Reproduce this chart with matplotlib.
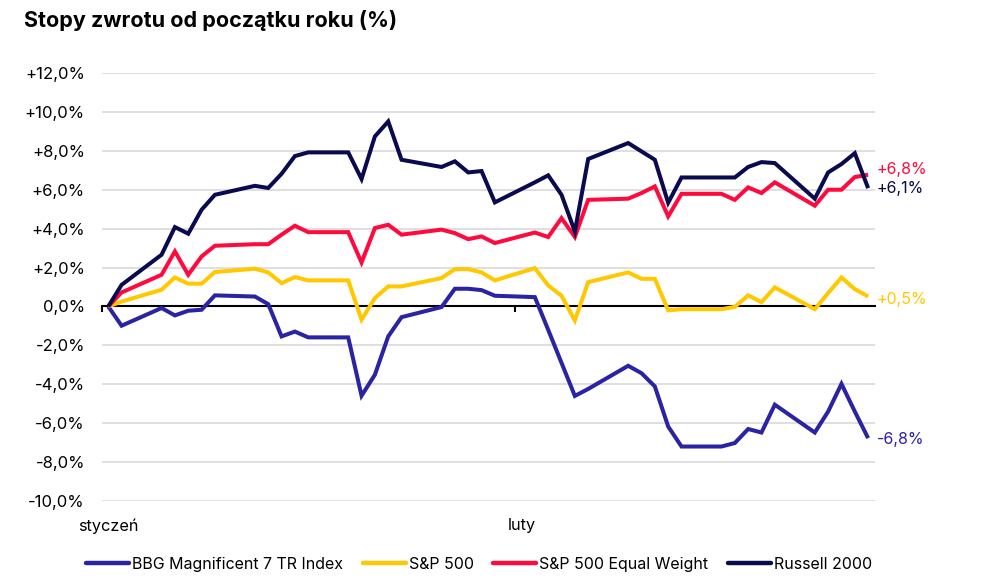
"""Year-to-date returns of US equity indices, Jan-Feb 2026."""

from __future__ import annotations

from typing import Final

import matplotlib

matplotlib.use("Agg")

import matplotlib.dates as mdates
import matplotlib.pyplot as plt
import pandas as pd
from matplotlib.axes import Axes
from matplotlib.transforms import blended_transform_factory

# trading days (holidays carry the previous close)
DATES: Final[list[str]] = [
    "2026-01-01", "2026-01-02",
    "2026-01-05", "2026-01-06", "2026-01-07", "2026-01-08", "2026-01-09",
    "2026-01-12", "2026-01-13", "2026-01-14", "2026-01-15", "2026-01-16",
    "2026-01-19", "2026-01-20", "2026-01-21", "2026-01-22", "2026-01-23",
    "2026-01-26", "2026-01-27", "2026-01-28", "2026-01-29", "2026-01-30",
    "2026-02-02", "2026-02-03", "2026-02-04", "2026-02-05", "2026-02-06",
    "2026-02-09", "2026-02-10", "2026-02-11", "2026-02-12", "2026-02-13",
    "2026-02-16", "2026-02-17", "2026-02-18", "2026-02-19", "2026-02-20",
    "2026-02-23", "2026-02-24", "2026-02-25", "2026-02-26", "2026-02-27",
]

MAG7: Final[list[float]] = [
    0.0, -0.99,
    -0.08, -0.46, -0.22, -0.17, 0.57,
    0.51, 0.12, -1.54, -1.29, -1.59,
    -1.59, -4.59, -3.51, -1.54, -0.55,
    -0.03, 0.91, 0.91, 0.84, 0.55,
    0.48, -1.20, -2.90, -4.60, -4.24,
    -3.05, -3.43, -4.11, -6.17, -7.20,
    -7.20, -7.02, -6.30, -6.48, -5.05,
    -6.48, -5.40, -3.98, -5.40, -6.77,
]

SP500: Final[list[float]] = [
    0.0, 0.25,
    0.86, 1.49, 1.17, 1.17, 1.77,
    1.94, 1.75, 1.20, 1.51, 1.34,
    1.34, -0.68, 0.43, 1.03, 1.03,
    1.46, 1.92, 1.92, 1.75, 1.34,
    1.97, 1.08, 0.55, -0.72, 1.25,
    1.75, 1.42, 1.42, -0.20, -0.14,
    -0.14, -0.02, 0.57, 0.22, 0.98,
    -0.14, 0.69, 1.49, 0.89, 0.51,
]

SP500_EW: Final[list[float]] = [
    0.0, 0.72,
    1.63, 2.83, 1.63, 2.57, 3.12,
    3.20, 3.20, 3.69, 4.15, 3.82,
    3.82, 2.26, 4.03, 4.20, 3.69,
    3.95, 3.77, 3.46, 3.60, 3.26,
    3.80, 3.57, 4.54, 3.57, 5.48,
    5.54, 5.83, 6.17, 4.63, 5.79,
    5.79, 5.48, 6.12, 5.83, 6.38,
    5.18, 6.00, 6.00, 6.65, 6.77,
]

RUSSELL: Final[list[float]] = [
    0.0, 1.11,
    2.66, 4.08, 3.74, 4.97, 5.74,
    6.20, 6.09, 6.82, 7.73, 7.92,
    7.92, 6.55, 8.74, 9.51, 7.54,
    7.17, 7.46, 6.89, 6.96, 5.35,
    6.38, 6.74, 5.74, 3.85, 7.58,
    8.40, 7.97, 7.54, 5.33, 6.63,
    6.63, 6.63, 7.17, 7.42, 7.37,
    5.54, 6.89, 7.32, 7.88, 6.08,
]

SERIES_NAMES: Final[list[str]] = [
    "BBG Magnificent 7 TR Index",
    "S&P 500",
    "S&P 500 Equal Weight",
    "Russell 2000",
]
MONTH_STARTS: Final[list[str]] = ["2026-01-01", "2026-02-01"]
MONTH_LABELS: Final[list[str]] = ["styczeń", "luty"]
Y_TICKS: Final[list[int]] = list(range(-10, 13, 2))

_COLORS: Final[dict[str, str]] = {
    "BBG Magnificent 7 TR Index": "#2A23A3",
    "S&P 500": "#FFC800",
    "S&P 500 Equal Weight": "#FF0A3F",
    "Russell 2000": "#0A0A4E",
}
# vertical nudge of the end labels, in points
_LABEL_NUDGE: Final[dict[str, float]] = {
    "BBG Magnificent 7 TR Index": -1.0,
    "S&P 500": -2.0,
    "S&P 500 Equal Weight": 3.5,
    "Russell 2000": -0.5,
}

_FONT = ["Inter", "DejaVu Sans"]
_GRID = "#D9D9D9"


def _pl_percent(value: float, decimals: int = 1) -> str:
    text = f"{value:+.{decimals}f}%".replace(".", ",")
    return "0,0%" if abs(value) < 1e-9 else text


def _draw_axis(ax: Axes, x_first: float, x_last: float) -> None:
    ax.set_xlim(x_first - 0.5, x_last + 0.5)
    ax.set_ylim(Y_TICKS[0], Y_TICKS[-1])

    for side in ("top", "right", "left"):
        ax.spines[side].set_visible(False)
    ax.spines["bottom"].set_position(("data", 0))
    ax.spines["bottom"].set_color("black")
    ax.spines["bottom"].set_linewidth(1.5)
    ax.spines["bottom"].set_zorder(3)

    ax.set_yticks(Y_TICKS)
    ax.set_yticklabels([_pl_percent(v) for v in Y_TICKS])
    ax.tick_params(axis="y", length=0, pad=12, labelsize=12, labelcolor="black")
    ax.grid(axis="y", color=_GRID, linewidth=1.2)
    ax.set_axisbelow(True)

    month_x = mdates.date2num(pd.to_datetime(MONTH_STARTS))
    ax.set_xticks(month_x - 0.5)
    ax.set_xticklabels([])
    ax.tick_params(axis="x", direction="out", length=4, width=1.5, color="black")

    trans = blended_transform_factory(ax.transData, ax.transAxes)
    for x, label in zip(month_x, MONTH_LABELS):
        ax.text(x, -0.058, label, transform=trans, ha="center", va="center",
                fontsize=11.7, family=_FONT)


def main() -> None:
    plt.rcParams["font.family"] = _FONT

    dates = pd.to_datetime(DATES)
    x = mdates.date2num(dates)
    series = dict(zip(SERIES_NAMES, [MAG7, SP500, SP500_EW, RUSSELL]))

    fig = plt.figure(figsize=(10, 5.85), dpi=100)
    ax = fig.add_axes([0.1016, 0.1436, 0.7732, 0.7316])
    _draw_axis(ax, x[0], x[-1])

    for name, values in series.items():
        ax.plot(x, values, color=_COLORS[name], linewidth=2.9,
                solid_joinstyle="miter", solid_capstyle="butt",
                label=name, zorder=4)
        ax.annotate(
            _pl_percent(values[-1]),
            xy=(x[-1], values[-1]),
            xytext=(6, _LABEL_NUDGE[name]),
            textcoords="offset points",
            ha="left", va="center",
            fontsize=11.5, color=_COLORS[name],
        )

    fig.text(0.024, 0.965, "Stopy zwrotu od początku roku (%)",
             fontsize=15.5, fontweight="bold", ha="left", va="center")

    handles, labels = ax.get_legend_handles_labels()
    legend = fig.legend(
        handles, labels,
        loc="center", bbox_to_anchor=(0.479, 0.035),
        ncol=4, frameon=False, fontsize=11.5,
        handlelength=2.7, handletextpad=0.2, columnspacing=1.2,
    )
    for line in legend.get_lines():
        line.set_linewidth(3.2)
        line.set_solid_capstyle("round")

    fig.savefig("out.png", dpi=100)
    plt.close(fig)


if __name__ == "__main__":
    main()
